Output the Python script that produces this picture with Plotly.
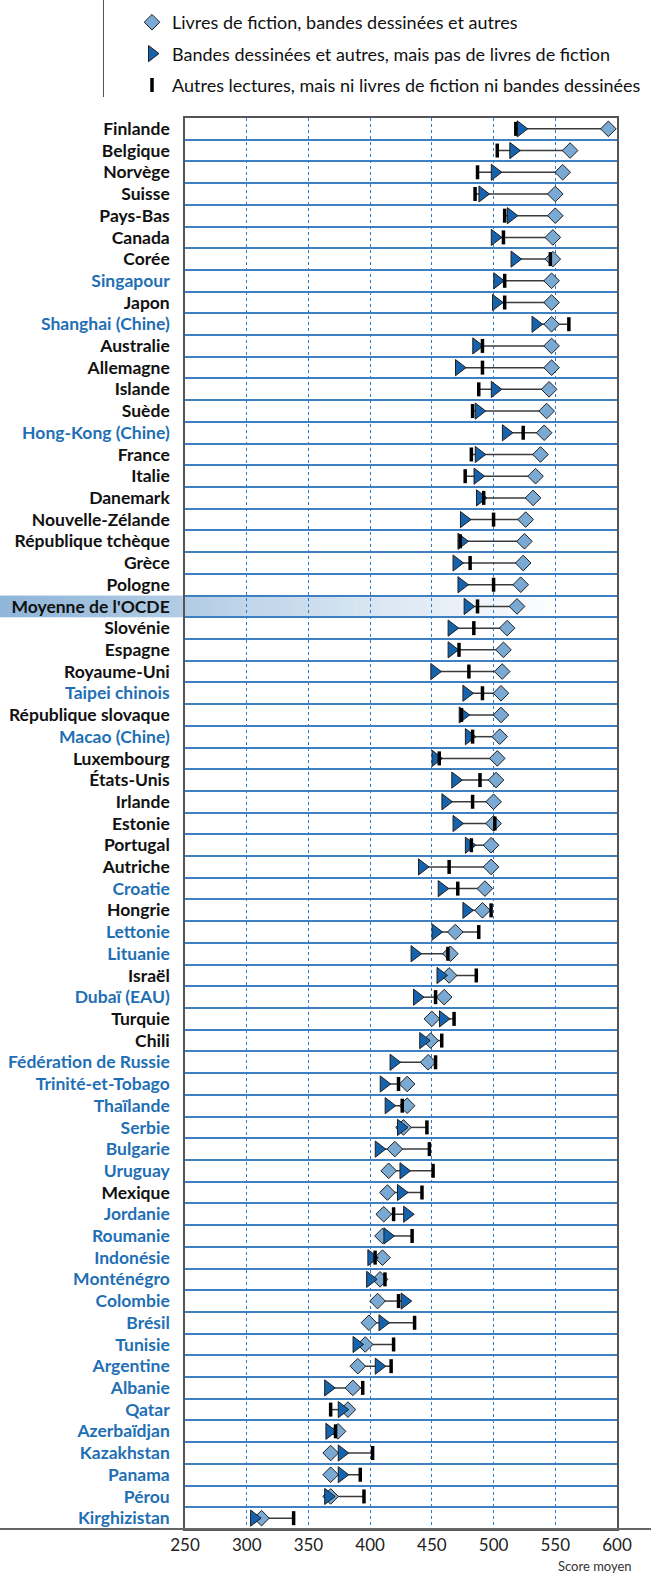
import plotly.graph_objects as go

countries = [
    "Finlande", "Belgique", "Norvège", "Suisse", "Pays-Bas", "Canada", "Corée",
    "Singapour", "Japon", "Shanghai (Chine)", "Australie", "Allemagne", "Islande",
    "Suède", "Hong-Kong (Chine)", "France", "Italie", "Danemark", "Nouvelle-Zélande",
    "République tchèque", "Grèce", "Pologne", "Moyenne de l'OCDE", "Slovénie",
    "Espagne", "Royaume-Uni", "Taipei chinois", "République slovaque", "Macao (Chine)",
    "Luxembourg", "États-Unis", "Irlande", "Estonie", "Portugal", "Autriche",
    "Croatie", "Hongrie", "Lettonie", "Lituanie", "Israël", "Dubaï (EAU)", "Turquie",
    "Chili", "Fédération de Russie", "Trinité-et-Tobago", "Thaïlande", "Serbie",
    "Bulgarie", "Uruguay", "Mexique", "Jordanie", "Roumanie", "Indonésie",
    "Monténégro", "Colombie", "Brésil", "Tunisie", "Argentine", "Albanie", "Qatar",
    "Azerbaïdjan", "Kazakhstan", "Panama", "Pérou", "Kirghizistan",
]

partner_countries = [
    "Singapour", "Shanghai (Chine)", "Hong-Kong (Chine)", "Taipei chinois",
    "Macao (Chine)", "Croatie", "Lettonie", "Lituanie", "Dubaï (EAU)",
    "Fédération de Russie", "Trinité-et-Tobago", "Thaïlande", "Serbie", "Bulgarie",
    "Uruguay", "Jordanie", "Roumanie", "Indonésie", "Monténégro", "Colombie",
    "Brésil", "Tunisie", "Argentine", "Albanie", "Qatar", "Azerbaïdjan",
    "Kazakhstan", "Panama", "Pérou", "Kirghizistan",
]

oecd_average_label = "Moyenne de l'OCDE"

# Livres de fiction, bandes dessinées et autres
fiction_comics_other = [
    593, 562, 556, 550, 550, 548, 548, 547, 547, 547, 547, 547, 545, 543, 541,
    538, 534, 532, 526, 525, 524, 522, 519, 511, 508, 507, 506, 506, 505, 503,
    502, 500, 500, 498, 498, 493, 491, 469, 465, 464, 460, 450, 449, 447, 430,
    430, 427, 420, 415, 414, 411, 410, 410, 408, 406, 399, 396, 390, 386, 382,
    374, 368, 368, 368, 312,
]

# Bandes dessinées et autres, mais pas de livres de fiction
comics_other = [
    522, 516, 501, 491, 514, 501, 517, 503, 502, 534, 486, 472, 501, 488, 510,
    488, 487, 489, 476, 474, 470, 474, 479, 466, 466, 452, 478, 475, 480, 453,
    469, 461, 470, 480, 442, 458, 478, 453, 436, 457, 438, 459, 443, 419, 411,
    415, 425, 407, 427, 425, 430, 414, 401, 400, 428, 410, 389, 407, 366, 377,
    367, 377, 377, 366, 306,
]

# Autres lectures, mais ni livres de fiction ni bandes dessinées
other_only = [
    518, 503, 487, 485, 509, 508, 546, 509, 509, 561, 491, 491, 488, 483, 524,
    482, 477, 492, 500, 473, 481, 500, 487, 484, 472, 480, 491, 474, 483, 456,
    489, 483, 501, 482, 464, 471, 498, 488, 463, 486, 453, 468, 458, 453, 423,
    426, 446, 448, 451, 442, 419, 434, 404, 412, 423, 436, 419, 417, 394, 368,
    372, 402, 392, 395, 338,
]

x_ticks = [250, 300, 350, 400, 450, 500, 550, 600]

series_names = [
    "Livres de fiction, bandes dessinées et autres",
    "Bandes dessinées et autres, mais pas de livres de fiction",
    "Autres lectures, mais ni livres de fiction ni bandes dessinées",
]

# ---------------------------------------------------------------------------
W, H = 651, 1575
ML, MR, MT, MB = 185, 34, 118, 46
PW = W - ML - MR
PH = H - MT - MB

BLUE_TXT = "#1f6fb5"
FONT = "Lato"

rows = list(range(len(countries)))

ticktext = []
for c in countries:
    col = BLUE_TXT if c in partner_countries else "#111111"
    ticktext.append(f"<span style='color:{col}'>{c}</span>")

# connecting range lines
lx, ly = [], []
for i, (a, b, c) in enumerate(zip(fiction_comics_other, comics_other, other_only)):
    lx += [min(a, b, c), max(a, b, c), None]
    ly += [i, i, None]

fig = go.Figure()

fig.add_trace(go.Scatter(
    x=lx, y=ly, mode="lines", line=dict(color="#3a3a3a", width=1.5),
    showlegend=False, hoverinfo="skip",
))

fig.add_trace(go.Scatter(
    x=fiction_comics_other, y=rows, mode="markers", name=series_names[0],
    legendgroup="a",
    marker=dict(symbol="diamond", size=12, color="#7aaad4",
                line=dict(color="#1e1e1e", width=1)),
))
fig.add_trace(go.Scatter(
    x=comics_other, y=rows, mode="markers", name=series_names[1],
    legendgroup="b",
    marker=dict(symbol="triangle-right", size=14, color="#1663ad",
                line=dict(color="#1e1e1e", width=1)),
))
fig.add_trace(go.Scatter(
    x=other_only, y=rows, mode="markers", name=series_names[2],
    legendgroup="c",
    marker=dict(symbol="line-ns", size=10, color="#000000",
                line=dict(color="#000000", width=3.5)),
))


def px_to_paper_x(px):
    return (px - ML) / PW


def px_to_paper_y(py):
    return 1 - (py - MT) / PH


shapes = []

# OECD average highlight band (gradient)
oi = countries.index(oecd_average_label)
n_steps = 70
x_start_px, x_end_px = 0, 565
c0 = (143, 181, 217)
for k in range(n_steps):
    t = k / (n_steps - 1)
    r = int(c0[0] + (255 - c0[0]) * t)
    g = int(c0[1] + (255 - c0[1]) * t)
    b = int(c0[2] + (255 - c0[2]) * t)
    xa = x_start_px + (x_end_px - x_start_px) * k / n_steps
    xb = x_start_px + (x_end_px - x_start_px) * (k + 1) / n_steps + 0.6
    shapes.append(dict(
        type="rect", xref="paper", yref="y",
        x0=px_to_paper_x(xa), x1=px_to_paper_x(xb),
        y0=oi - 0.5, y1=oi + 0.5,
        fillcolor=f"rgb({r},{g},{b})", line=dict(width=0), layer="below",
    ))

# bottom axis line across the full width
shapes.append(dict(
    type="line", xref="paper", yref="paper",
    x0=px_to_paper_x(0), x1=px_to_paper_x(W), y0=0, y1=0,
    line=dict(color="#666666", width=2), layer="above",
))
# legend separator line
shapes.append(dict(
    type="line", xref="paper", yref="paper",
    x0=px_to_paper_x(103.5), x1=px_to_paper_x(103.5),
    y0=px_to_paper_y(97), y1=px_to_paper_y(0),
    line=dict(color="#555555", width=1), layer="above",
))

fig.update_layout(
    width=W, height=H,
    margin=dict(l=ML, r=MR, t=MT, b=MB, autoexpand=False),
    paper_bgcolor="white",
    plot_bgcolor="rgba(0,0,0,0)",
    font=dict(family=FONT, color="#111111"),
    shapes=shapes,
    showlegend=True,
    legend=dict(
        x=px_to_paper_x(132), y=px_to_paper_y(4), xanchor="left", yanchor="top",
        font=dict(family=FONT, size=18, color="#111111"),
        tracegroupgap=5, bgcolor="rgba(0,0,0,0)", traceorder="grouped",
    ),
    annotations=[dict(
        text="Score moyen", xref="paper", yref="paper",
        x=px_to_paper_x(634), y=px_to_paper_y(1566),
        xanchor="right", yanchor="middle", showarrow=False,
        font=dict(family=FONT, size=13, color="#333333"),
    )],
)

fig.update_xaxes(
    range=[250, 600], tickvals=x_ticks, ticktext=[str(v) for v in x_ticks],
    showgrid=True, griddash="dot", gridcolor="#2b7bd0", gridwidth=1,
    showline=True, linecolor="#555555", linewidth=1.5, mirror=True,
    ticks="", zeroline=False,
    tickfont=dict(family=FONT, size=17, color="#222222"),
)
fig.update_yaxes(
    range=[len(countries) - 0.5, -0.5], tickvals=rows, ticktext=ticktext,
    showgrid=False, zeroline=False, ticks="",
    showline=True, linecolor="#555555", linewidth=1.5, mirror=True,
    ticklabelstandoff=10,
    tickfont=dict(family=FONT, size=17.5, color="#111111", weight=700),
    minor=dict(tickmode="linear", tick0=0.5, dtick=1, showgrid=True,
               gridcolor="#3f80c2", gridwidth=1.5, ticks=""),
)

fig.write_html(
    "out.html",
    config={"displayModeBar": False},
    post_script="document.body.style.margin='0';document.body.style.overflow='hidden';",
)
